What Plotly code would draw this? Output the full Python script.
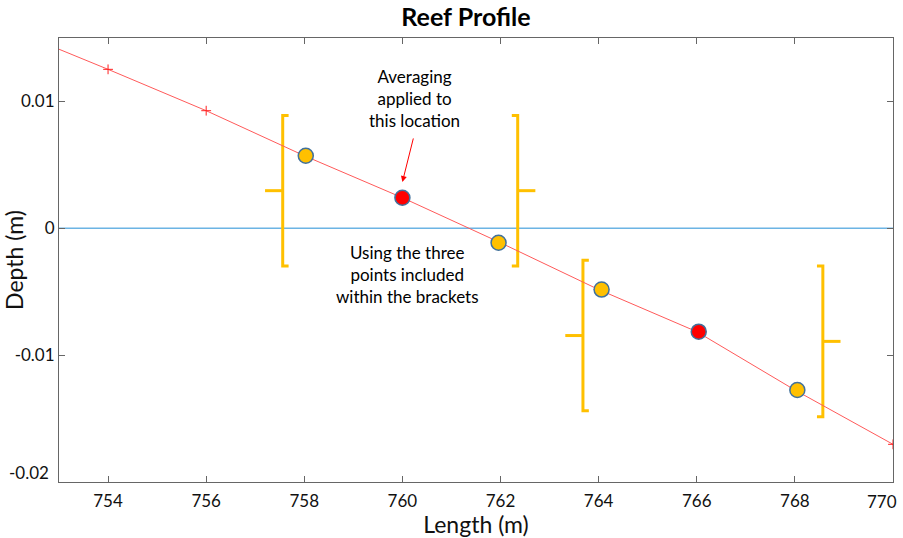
import plotly.graph_objects as go

# Profile line (red, + markers)
profile_x = [752, 754, 756, 758, 760, 762, 764, 766, 768, 770]
profile_y = [0.0157, 0.01253, 0.00927, 0.00572, 0.00241, -0.00114, -0.00483, -0.00815, -0.01275, -0.01703]

# Highlighted points
yellow_x = [758.03, 761.96, 764.06, 768.05]
yellow_y = [0.00572, -0.00114, -0.00483, -0.01275]
red_x = [760.0, 766.04]
red_y = [0.00241, -0.00815]

# Brackets: x of vertical bar, top, bottom, side ("L" = "[", "R" = "]")
bracket_x = [757.56, 762.35, 763.68, 768.57]
bracket_top = [0.0089, 0.0089, -0.00252, -0.00297]
bracket_bottom = [-0.00297, -0.00297, -0.01439, -0.01486]
bracket_side = ["L", "R", "L", "R"]

# Axis ticks
x_ticks = [754, 756, 758, 760, 762, 764, 766, 768, 770]
x_ticklabels = ["754", "756", "758", "760", "762", "764", "766", "768", "770"]
y_ticks = [-0.02, -0.01, 0, 0.01]
y_ticklabels = ["-0.02", "-0.01", "0", "0.01"]

FONT = "Lato"
YELLOW = "#FFC000"
TICKFONT = dict(family=FONT, size=17, color="#111")

fig = go.Figure()

# zero line
fig.add_trace(go.Scatter(x=[753, 770], y=[0, 0], mode="lines",
                         line=dict(color="#6CB4E4", width=1.5),
                         hoverinfo="skip", showlegend=False))

# brackets
serif = 0.12
tick = 0.36
for bx, top, bot, side in zip(bracket_x, bracket_top, bracket_bottom, bracket_side):
    s = 1 if side == "L" else -1
    mid = (top + bot) / 2
    xs = [bx + s * serif, bx, bx, bx + s * serif, None, bx, bx - s * tick]
    ys = [top, top, bot, bot, None, mid, mid]
    fig.add_trace(go.Scatter(x=xs, y=ys, mode="lines",
                             line=dict(color=YELLOW, width=3),
                             hoverinfo="skip", showlegend=False))

# profile line
fig.add_trace(go.Scatter(x=profile_x, y=profile_y, mode="lines+markers",
                         line=dict(color="#FF5A5A", width=1),
                         marker=dict(symbol="cross-thin", size=7,
                                     line=dict(color="#FF2020", width=1)),
                         showlegend=False))

fig.add_trace(go.Scatter(x=yellow_x, y=yellow_y, mode="markers",
                         marker=dict(size=15, color=YELLOW,
                                     line=dict(color="#41719C", width=1.5)),
                         showlegend=False))
fig.add_trace(go.Scatter(x=red_x, y=red_y, mode="markers",
                         marker=dict(size=15, color="#FF0000",
                                     line=dict(color="#41719C", width=1.5)),
                         showlegend=False))

fig.add_annotation(x=760.0, y=0.00365, ax=760.23, ay=0.0072,
                   xref="x", yref="y", axref="x", ayref="y",
                   text="", showarrow=True, arrowhead=2, arrowsize=1.2,
                   arrowwidth=1, arrowcolor="#FF0000")
fig.add_annotation(x=760.25, y=0.0102, xref="x", yref="y",
                   text="Averaging<br>applied to<br>this location",
                   showarrow=False, font=dict(family=FONT, size=17, color="#000"))
fig.add_annotation(x=760.1, y=-0.00365, xref="x", yref="y",
                   text="Using the three<br>points included<br>within the brackets",
                   showarrow=False, font=dict(family=FONT, size=17, color="#000"))

# edge tick labels nudged inward like the reference
fig.add_annotation(x=x_ticks[-1], y=0, xref="x", yref="paper",
                   text=x_ticklabels[-1], showarrow=False,
                   xanchor="right", yanchor="top", xshift=6, yshift=-7,
                   font=TICKFONT)
fig.add_annotation(x=0, y=y_ticks[0], xref="paper", yref="y",
                   text=y_ticklabels[0], showarrow=False,
                   xanchor="right", yanchor="middle", xshift=-8, yshift=10,
                   font=TICKFONT)

axis_common = dict(showgrid=False, zeroline=False, showline=True,
                   linecolor="#666666", linewidth=1, mirror="ticks",
                   ticks="inside", ticklen=6, tickcolor="#666666",
                   automargin=False,
                   tickfont=TICKFONT)

fig.update_xaxes(range=[753, 770], tickvals=x_ticks,
                 ticktext=x_ticklabels[:-1] + [""], ticklabelstandoff=4,
                 title=dict(text="Length (m)", font=dict(family=FONT, size=23, color="#111"),
                            standoff=2),
                 **axis_common)
fig.update_yaxes(range=[-0.02, 0.015], tickvals=y_ticks,
                 ticktext=[""] + y_ticklabels[1:],
                 title=dict(text="Depth (m)", font=dict(family=FONT, size=23, color="#111"),
                            standoff=2),
                 **axis_common)

fig.update_layout(
    width=903, height=538,
    margin=dict(l=59, r=10, t=38, b=56),
    paper_bgcolor="white", plot_bgcolor="white",
    title=dict(text="<b>Reef Profile</b>", x=0.516, xanchor="center",
               y=0.968, yanchor="middle",
               font=dict(family=FONT, size=25, color="#000")),
    font=dict(family=FONT),
)

fig.write_html("out.html")
